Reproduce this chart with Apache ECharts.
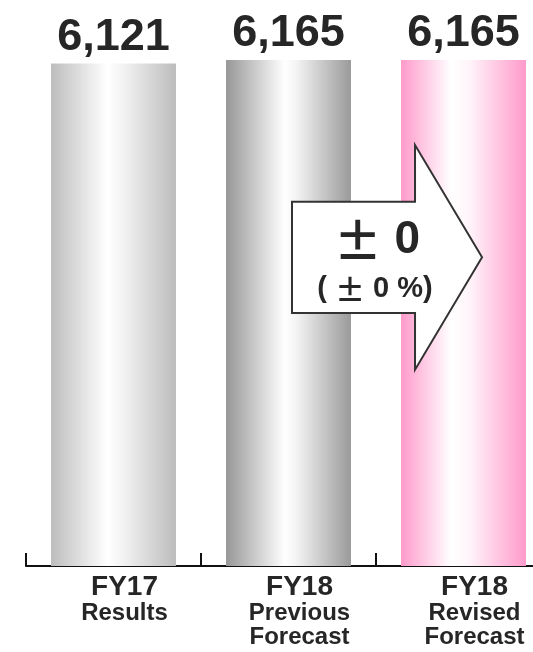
<!DOCTYPE html>
<html><head><meta charset="utf-8">
<script src="https://cdn.jsdelivr.net/npm/echarts@6/dist/echarts.min.js"></script>
<style>html,body{margin:0;padding:0;background:#fff}#c{width:533px;height:652px}</style>
</head><body><div id="c"></div>
<script>
const categories = ['FY17\nResults', 'FY18\nPrevious\nForecast', 'FY18\nRevised\nForecast'];
const values = [6121, 6165, 6165];
const changeMain = '0';
const changeSub = '( {pm|±} 0 %)';

const FONT = '"Liberation Sans", Arial, Helvetica, sans-serif';
const grad = (stops) => new echarts.graphic.LinearGradient(0, 0, 1, 0,
  stops.map((c) => ({ offset: c[0], color: c[1] })));
const barFills = [
  grad([[0, '#bdbdbd'], [0.45, '#ffffff'], [0.6, '#f0f0f0'], [1, '#bcbcbc']]),
  grad([[0, '#979797'], [0.47, '#ffffff'], [0.56, '#f4f4f4'], [1, '#9a9a9a']]),
  grad([[0, '#ff9acb'], [0.4, '#ffffff'], [0.55, '#fff4f9'], [1, '#ff9acb']])
];

const chart = echarts.init(document.getElementById('c'), null, { renderer: 'canvas' });
chart.setOption({
  animation: false,
  grid: { left: 26, width: 525, top: 60, bottom: 86, containLabel: false, outerBoundsMode: 'none' },
  xAxis: {
    type: 'category',
    data: categories,
    axisLine: { show: true, lineStyle: { color: '#111', width: 2 } },
    axisTick: { show: true, inside: true, length: 13, interval: 0, lineStyle: { color: '#111', width: 2 } },
    axisLabel: {
      margin: 8,
      interval: 0,
      padding: [0, 0, 0, 22],
      formatter: (v) => {
        const parts = v.split('\n');
        return ['{a|' + parts[0] + '}'].concat(parts.slice(1).map(p => '{b|' + p + '}')).join('\n');
      },
      rich: {
        a: { fontFamily: FONT, fontWeight: 'bold', fontSize: 28, lineHeight: 27, color: '#262626' },
        b: { fontFamily: FONT, fontWeight: 'bold', fontSize: 24, lineHeight: 24, color: '#262626' }
      }
    }
  },
  yAxis: { type: 'value', min: 0, max: (v) => v.max, show: false, splitLine: { show: false } },
  series: [{
    type: 'bar',
    barWidth: '71.4%',
    data: values.map((v, i) => ({ value: v, itemStyle: { color: barFills[i] } })),
    label: {
      show: true, position: 'top', distance: 4,
      fontFamily: FONT, fontWeight: 'bold', fontSize: 45, color: '#262626',
      formatter: (p) => p.value.toLocaleString('en-US')
    }
  }]
});

// Change arrow annotation anchored to the FY18 categories and the value scale
const c2 = chart.convertToPixel({ xAxisIndex: 0 }, 1);
const c3 = chart.convertToPixel({ xAxisIndex: 0 }, 2);
const step = c3 - c2;
const y0 = chart.convertToPixel({ yAxisIndex: 0 }, 0);
const yT = chart.convertToPixel({ yAxisIndex: 0 }, values[2]);
const H = y0 - yT;
const mid = y0 - 0.61 * H;
const bodyL = c2 + 0.02 * step, headB = c3 - 0.277 * step, tip = c3 + 0.106 * step;
const bh = 0.11 * H, hh = 0.222 * H;
const tx = (c2 + c3) / 2 + 1;
chart.setOption({
  graphic: [
    { type: 'polygon', z: 10,
      shape: { points: [[bodyL, mid - bh], [headB, mid - bh], [headB, mid - hh], [tip, mid],
                        [headB, mid + hh], [headB, mid + bh], [bodyL, mid + bh]] },
      style: { fill: '#ffffff', stroke: '#333333', lineWidth: 2 } },
    { type: 'text', z: 11, x: tx, y: mid - 17,
      style: { text: '{pm|±} ' + changeMain, align: 'center', verticalAlign: 'middle',
        fill: '#262626', font: 'bold 46px ' + FONT,
        rich: { pm: { fontFamily: '"Noto Sans CJK JP"', fontWeight: 'bold', fontSize: 48, fill: '#262626' } } } },
    { type: 'text', z: 11, x: tx - 2, y: mid + 32,
      style: { text: changeSub, align: 'center', verticalAlign: 'middle',
        fill: '#262626', font: 'bold 29px ' + FONT,
        rich: { pm: { fontFamily: '"Noto Sans CJK JP"', fontWeight: 'bold', fontSize: 30, fill: '#262626' } } } }
  ]
});
</script></body></html>
